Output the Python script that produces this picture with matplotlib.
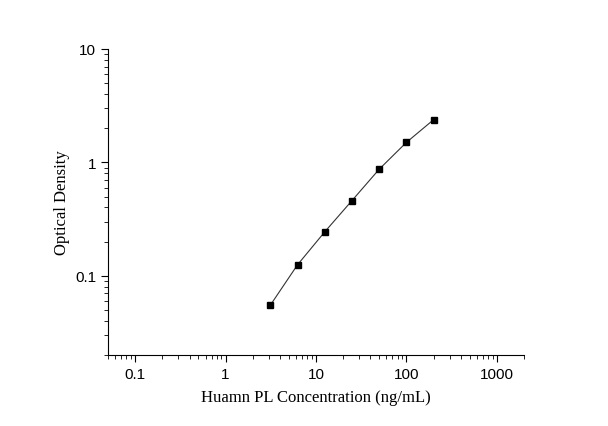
import matplotlib
matplotlib.use("Agg")
import matplotlib.pyplot as plt
from matplotlib.ticker import LogLocator, FixedLocator, FixedFormatter

conc = [3.125, 6.25, 12.5, 25, 50, 100, 200]
od = [0.055, 0.125, 0.244, 0.46, 0.87, 1.5, 2.38]
xticks = [0.1, 1, 10, 100, 1000]
xlabels = ["0.1", "1", "10", "100", "1000"]
yticks = [0.1, 1, 10]
ylabels = ["0.1", "1", "10"]

plt.rcParams["font.family"] = "Liberation Serif"
fig = plt.figure(figsize=(6.08, 4.27), dpi=100)
ax = fig.add_axes([108/608, 1-356/427, (524-108)/608, (356-50)/427])
ax.plot(conc, od, color="#333333", lw=0.8, marker="s", ms=5, mfc="black", mec="black")
ax.set_xscale("log"); ax.set_yscale("log")
ax.set_xlim(0.05, 2000); ax.set_ylim(0.02, 10)
ax.xaxis.set_major_locator(FixedLocator(xticks)); ax.xaxis.set_major_formatter(FixedFormatter(xlabels))
ax.yaxis.set_major_locator(FixedLocator(yticks)); ax.yaxis.set_major_formatter(FixedFormatter(ylabels))
for a in (ax.xaxis, ax.yaxis):
    a.set_minor_locator(LogLocator(base=10, subs=range(2, 10)))
ax.spines["top"].set_visible(False); ax.spines["right"].set_visible(False)
ax.tick_params(which="major", length=5, labelsize=11)
ax.tick_params(which="minor", length=3)
for lab in ax.get_xticklabels() + ax.get_yticklabels():
    lab.set_fontfamily("Liberation Sans")
ax.set_xlabel("Huamn PL Concentration (ng/mL)", fontsize=12, labelpad=6)
ax.set_ylabel("Optical Density", fontsize=12)
fig.savefig("out.png", dpi=100)
